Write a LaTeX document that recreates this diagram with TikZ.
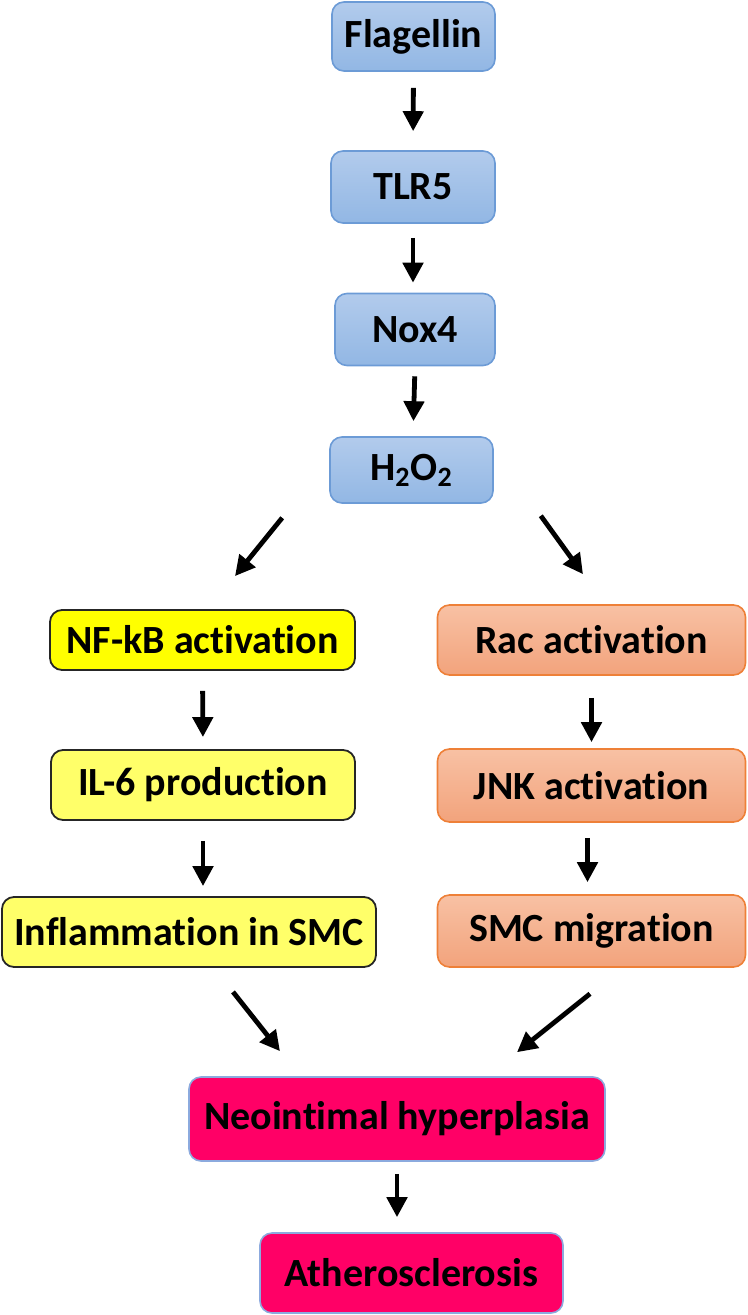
\documentclass[tikz,border=0pt]{standalone}
\usepackage{fontspec}
\setmainfont{Carlito}[Ligatures=NoCommon]
\usepackage{xcolor}
\usepackage{tikz}
\usetikzlibrary{arrows.meta, positioning}
\definecolor{blueTop}{RGB}{178,203,236}
\definecolor{blueBot}{RGB}{146,183,228}
\definecolor{blueLine}{RGB}{108,155,214}
\definecolor{orangeTop}{RGB}{248,193,164}
\definecolor{orangeBot}{RGB}{242,163,124}
\definecolor{orangeLine}{RGB}{238,128,56}
\definecolor{nfYellow}{RGB}{255,255,0}
\definecolor{paleYellow}{RGB}{255,255,105}
\definecolor{hotPink}{RGB}{255,0,102}
\definecolor{pinkLine}{RGB}{140,170,222}
\tikzset{
    pathway/.style={rectangle, rounded corners=6pt, align=center, inner sep=0pt, font=\fontsize{20}{24}\selectfont\bfseries},
    signal/.style={pathway, draw=blueLine, line width=0.8pt, top color=blueTop, bottom color=blueBot},
    inflam/.style={pathway, draw=black!85, line width=0.9pt, fill=paleYellow},
    migrate/.style={pathway, draw=orangeLine, line width=0.8pt, top color=orangeTop, bottom color=orangeBot},
    outcome/.style={pathway, draw=pinkLine, line width=0.8pt, fill=hotPink},
    arrow/.style={-{Triangle[length=10pt,width=10pt]}, line width=2.4pt}
}
\begin{document}
\begin{tikzpicture}[x=0.5pt, y=-0.5pt]
        \useasboundingbox (0,0) rectangle (748,1315);
        % receptor chain
        \node[signal, minimum width=81.5pt, minimum height=34.5pt] (Flagellin) at (413.5,36.5) {Flagellin};
        \node[signal, minimum width=82pt, minimum height=36pt] (TLRFive) at (413,187) {TLR5};
        \node[signal, minimum width=80pt, minimum height=36pt] (NoxFour) at (415,329.5) {Nox4};
        \node[signal, minimum width=81.5pt, minimum height=33pt] (Peroxide) at (411.5,470) {H\textsubscript{2}O\textsubscript{2}};
        
        % left branch
        \node[inflam, fill=nfYellow, minimum width=152.5pt, minimum height=30pt] (NFkB) at (202.5,640) {NF-kB activation};
        \node[inflam, minimum width=152pt, minimum height=35pt] (ILSix) at (203,785) {IL-6 production};
        \node[inflam, minimum width=187pt, minimum height=35pt] (Inflam) at (189,932) {Inflammation in SMC};
        
        % right branch
        \node[migrate, minimum width=154pt, minimum height=35pt] (Rac) at (591.5,640) {Rac activation};
        \node[migrate, minimum width=154pt, minimum height=36.5pt] (JNK) at (591.5,785.5) {JNK activation};
        \node[migrate, minimum width=154pt, minimum height=36pt] (Migration) at (591.5,931) {SMC migration};
        
        \node[outcome, minimum width=208pt, minimum height=42pt] (Neo) at (397,1119) {Neointimal hyperplasia};
        \node[outcome, minimum width=151.5pt, minimum height=40pt] (Athero) at (411.5,1273) {Atherosclerosis};
        
        \draw[arrow, shorten <=8pt, shorten >=9.5pt] (Flagellin.south) -- (TLRFive.north);
        \draw[arrow, shorten <=7pt, shorten >=5pt] (TLRFive.south) -- (TLRFive.south |- NoxFour.north);
        \draw[arrow, shorten <=5pt, shorten >=7.5pt] (NoxFour.south) -- ([xshift=-1pt]NoxFour.south |- Peroxide.north);
        \draw[arrow] ([xshift=-23.5pt,yshift=-7pt]Peroxide.south west) -- ([xshift=16.25pt,yshift=16.5pt]NFkB.north);
        \draw[arrow] ([xshift=23.5pt,yshift=-6pt]Peroxide.south east) -- ([xshift=-4.25pt,yshift=15pt]Rac.north);
        \draw[arrow, shorten <=10pt, shorten >=6pt] (NFkB.south) -- (ILSix.north);
        \draw[arrow, shorten <=10pt, shorten >=5pt] (ILSix.south) -- (ILSix.south |- Inflam.north);
        \draw[arrow, shorten <=11pt, shorten >=3pt] (Rac.south) -- (JNK.north);
        \draw[arrow, shorten <=7.5pt, shorten >=6pt] ([xshift=-2pt]JNK.south) -- ([xshift=-2pt]Migration.north);
        \draw[arrow] ([xshift=22pt,yshift=-12pt]Inflam.south) -- ([xshift=-58.5pt,yshift=12.5pt]Neo.north);
        \draw[arrow] ([xshift=-0.75pt,yshift=-13pt]Migration.south) -- ([xshift=60pt,yshift=12pt]Neo.north);
        \draw[arrow, shorten <=6pt, shorten >=7.5pt] (Neo.south) -- (Neo.south |- Athero.north);
    \end{tikzpicture}
\end{document}
